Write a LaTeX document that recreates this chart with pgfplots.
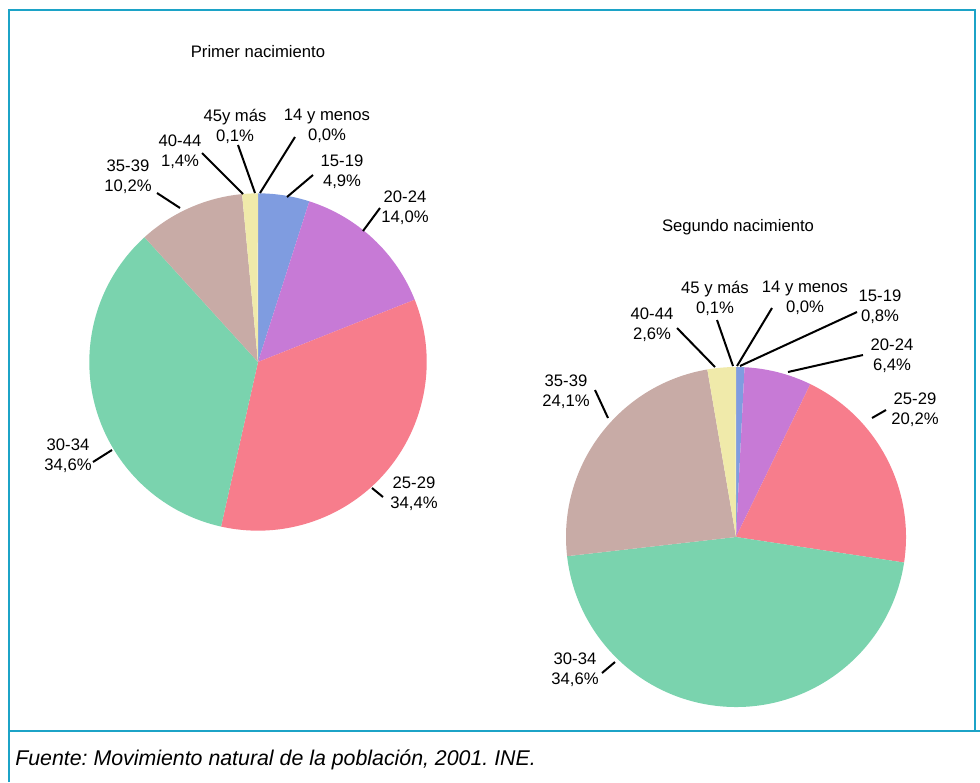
\documentclass[border=0pt]{standalone}
\usepackage{fontspec}
\setmainfont{Liberation Sans}
\usepackage{pgfplots}
\usepackage{pgfplotstable}
\pgfplotsset{compat=1.18}
\frenchspacing

\definecolor{frame}{HTML}{1CA3C7}
\definecolor{c14}{HTML}{7F9CE0}
\definecolor{c15}{HTML}{7F9CE0}
\definecolor{c20}{HTML}{C77AD6}
\definecolor{c25}{HTML}{F77D8C}
\definecolor{c30}{HTML}{7AD3AE}
\definecolor{c35}{HTML}{C8ABA6}
\definecolor{c40}{HTML}{F0EAAA}
\definecolor{c45}{HTML}{F0EAAA}

% percentages, clockwise from 12 o'clock
\pgfplotstableread{
val  col
0.0  c14
4.9  c15
14.0 c20
34.4 c25
34.6 c30
10.2 c35
1.4  c40
0.1  c45
}\primer
\pgfplotstableread{
val  col
0.0  c14
0.8  c15
6.4  c20
20.2 c25
45.8 c30
24.1 c35
2.6  c40
0.1  c45
}\segundo

% #1 table, #2 radius
\newcommand\piesectors[2]{%
  \pgfkeys{/pgf/fpu=false}%
  \pgfplotstablegetrowsof{#1}%
  \pgfmathtruncatemacro\lastrow{\pgfplotsretval-1}%
  \def\tot{0}%
  \pgfplotsforeachungrouped \i in {0,...,\lastrow}{%
    \pgfplotstablegetelem{\i}{val}\of#1%
    \pgfmathsetmacro\tot{\tot+\pgfplotsretval}}%
  \def\cum{0}%
  \pgfplotsforeachungrouped \i in {0,...,\lastrow}{%
    \pgfplotstablegetelem{\i}{val}\of#1\let\pval\pgfplotsretval
    \pgfplotstablegetelem{\i}{col}\of#1\let\pcol\pgfplotsretval
    \pgfmathsetmacro\aone{90-360*(\cum/\tot)}%
    \pgfmathsetmacro\cum{\cum+\pval}%
    \pgfmathsetmacro\atwo{90-360*(\cum/\tot)}%
    \ifdim\pval pt>0pt
      \fill[\pcol] (axis cs:0,0) -- ++(\aone:#2) arc[start angle=\aone, end angle=\atwo, radius=#2] -- cycle;
    \fi
  }}

\newcommand\lab[4]{\node[lbl] at (#1,#2) {#3\\#4};}

\begin{document}
\begin{tikzpicture}
\begin{scope}[x=0.75pt, y=-0.75pt]
\path[use as bounding box] (0,0) rectangle (980,782);
% frame
\draw[frame, line width=1.6pt] (9,782) -- (9,10) -- (975,10) -- (975,731);
\draw[frame, line width=1.6pt] (9,731) -- (980,731);
\end{scope}

% pies: centres (258,362) and (736,537) in pixels of the frame
\begin{axis}[at={(193.5pt,-271.5pt)}, anchor=center, scale only axis,
  width=252pt, height=252pt,
  xmin=-1, xmax=1, ymin=-1, ymax=1, hide axis, clip=false]
\addplot[draw=none] coordinates {(0,0)};
\pgfplotsextra{\piesectors{\primer}{126.5pt}}
\end{axis}

\begin{axis}[at={(552pt,-402.75pt)}, anchor=center, scale only axis,
  width=255pt, height=255pt,
  xmin=-1, xmax=1, ymin=-1, ymax=1, hide axis, clip=false]
\addplot[draw=none] coordinates {(0,0)};
\pgfplotsextra{\piesectors{\segundo}{127.5pt}}
\end{axis}

\begin{scope}[x=0.75pt, y=-0.75pt,
  lbl/.style={font=\fontsize{12.5}{15}\selectfont, align=center, inner sep=0pt},
  lead/.style={line width=1.5pt}]
% titles
\node[lbl] at (258,52) {Primer nacimiento};
\node[lbl] at (738,227) {Segundo nacimiento};

% labels, first chart
\lab{235}{126}{45y más}{0,1\%}
\lab{327}{126}{14 y menos}{0,0\%}
\lab{180}{152}{40-44}{1,4\%}
\lab{342}{172}{15-19}{4,9\%}
\lab{405}{208}{20-24}{14,0\%}
\lab{128}{177}{35-39}{10,2\%}
\lab{68}{456}{30-34}{34,6\%}
\lab{414}{494}{25-29}{34,4\%}
\draw[lead] (238,145) -- (255,193);
\draw[lead] (295,137) -- (260,193);
\draw[lead] (202,153) -- (243,194);
\draw[lead] (313,175) -- (287,197);
\draw[lead] (380,208) -- (363,231);
\draw[lead] (157,193) -- (180,208);
\draw[lead] (93,462) -- (112,450);
\draw[lead] (372,488) -- (383,497);

% labels, second chart
\lab{715}{298}{45 y más}{0,1\%}
\lab{805}{298}{14 y menos}{0,0\%}
\lab{880}{307}{15-19}{0,8\%}
\lab{892}{356}{20-24}{6,4\%}
\lab{915}{410}{25-29}{20,2\%}
\lab{652}{325}{40-44}{2,6\%}
\lab{566}{392}{35-39}{24,1\%}
\lab{575}{670}{30-34}{34,6\%}
\draw[lead] (717,320) -- (733,366);
\draw[lead] (772,308) -- (737,366);
\draw[lead] (857,312) -- (740,366);
\draw[lead] (863,355) -- (788,372);
\draw[lead] (872,418) -- (886,410);
\draw[lead] (677,328) -- (715,367);
\draw[lead] (595,390) -- (608,418);
\draw[lead] (602,673) -- (615,662);

% source
\node[anchor=base west, inner sep=0pt, font=\fontsize{16}{18}\selectfont\itshape]
  at (15,765) {Fuente: Movimiento natural de la población, 2001. INE.};
\end{scope}
\end{tikzpicture}
\end{document}
